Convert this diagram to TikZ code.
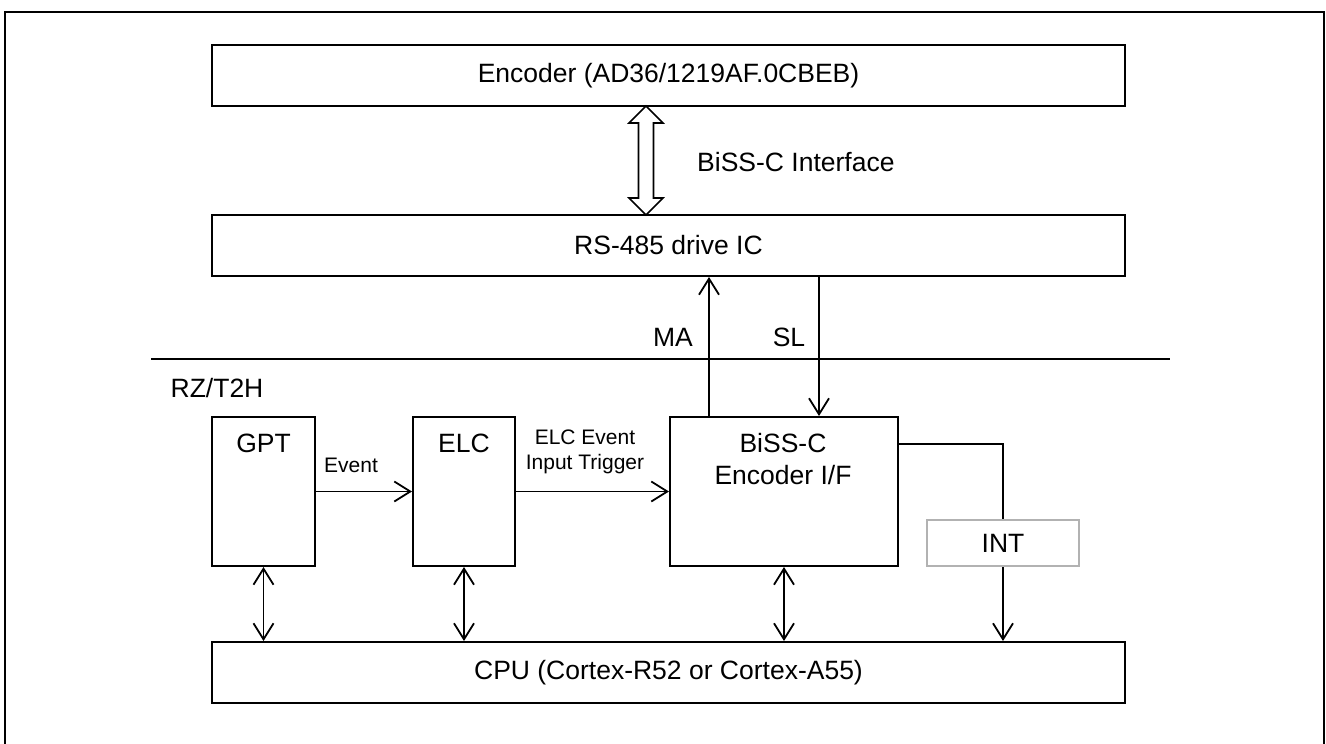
\documentclass[tikz,border=0pt]{standalone}
\usepackage{fontspec}
\setmainfont{Liberation Sans}
\usetikzlibrary{arrows.meta}
\newcommand\mainsz{\fontsize{26.5}{32}\selectfont}
\newcommand\smallsz{\fontsize{21}{25}\selectfont}
\tikzset{
  blk/.style={draw, line width=2pt, inner sep=0pt, align=center, font=\mainsz},
  lbl/.style={inner sep=0pt, align=center, font=\mainsz},
  sml/.style={inner sep=0pt, align=center, font=\smallsz},
  tipv/.tip={Straight Barb[length=16pt,width=20pt]},
  sig/.style={line width=1.8pt, -tipv},
  bidir/.style={line width=1.8pt, tipv-tipv},
}
\begin{document}
\begin{tikzpicture}[x=1pt,y=-1pt]
  \useasboundingbox (0,0) rectangle (1326,744);
  % outer frame, open at the bottom
  \draw[line width=2.7pt] (5,760) -- (5,12) -- (1324,12) -- (1324,760);

  \node[blk, minimum width=913, minimum height=61] (enc) at (668.5,75.5) {Encoder (AD36/1219AF.0CBEB)};
  \node[blk, minimum width=913, minimum height=61] (rs) at (668.5,245.5) {RS-485 drive IC};
  \node[blk, minimum width=913, minimum height=61] (cpu) at (668.5,672.5) {CPU (Cortex-R52 or Cortex-A55)};

  \node[blk, minimum width=103, minimum height=149] (gpt) at (263.5,491.5) {};
  \node[blk, minimum width=102, minimum height=149] (elc) at (464,491.5) {};
  \node[blk, minimum width=228, minimum height=149] (biss) at (784,491.5) {};
  \node[blk, draw=black!30, fill=white, minimum width=152, minimum height=46] (int) at (1003,543) {INT};

  \node[lbl] (gpttxt) at (263.5,443) {GPT};
  \node[lbl] (elctxt) at (464,443) {ELC};
  \node[lbl] (bisstxt) at (783,459) {BiSS-C\\Encoder I/F};
  \node[lbl, anchor=west] (ifc) at (697,162) {BiSS-C Interface};
  \node[lbl] (ma) at (673,337) {MA};
  \node[lbl] (sl) at (789,337) {SL};
  \node[lbl] (rzt) at (217,388) {RZ/T2H};
  \node[sml] (evt) at (351,465) {Event};
  \node[sml] (trg) at (585,452) {ELC Event\\Input Trigger};

  % boundary of the device
  \coordinate (sepl) at (151,359);
  \coordinate (sepr) at (1170,359);
  \draw[line width=1.8pt] (sepl) -- (sepr);

  % BiSS-C interface (hollow double arrow)
  \draw[line width=1.6pt, fill=white] (646,106) -- (663,123) -- (653.5,123) -- (653.5,198)
    -- (663,198) -- (646,215) -- (629,198) -- (638.5,198) -- (638.5,123) -- (629,123) -- cycle;

  \coordinate (maX) at (709,0);
  \coordinate (slX) at (819,0);
  \begin{scope}
    \draw[sig] (biss.north -| maX) -- (rs.south -| maX);
    \draw[sig] (rs.south -| slX) -- (biss.north -| slX);
    \draw[sig] (gpt.east) -- (elc.west);
    \draw[sig] (elc.east) -- (biss.west);
    \draw[line width=1.8pt] ([yshift=-28]biss.north east) -| (int.north);
    \draw[sig] (int.south) -- (cpu.north -| int.south);
    \draw[bidir] (gpt.south) -- (cpu.north -| gpt.south);
    \draw[bidir] (elc.south) -- (cpu.north -| elc.south);
    \draw[bidir] (biss.south) -- (cpu.north -| biss.south);
  \end{scope}
\end{tikzpicture}
\end{document}
